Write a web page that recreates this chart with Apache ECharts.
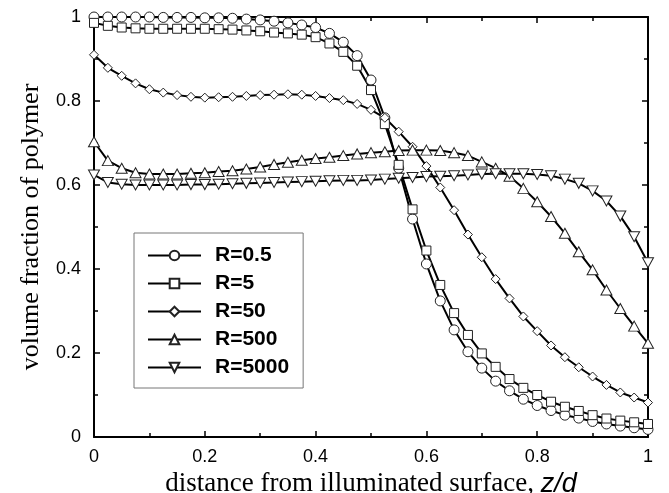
<!DOCTYPE html>
<html>
<head>
<meta charset="utf-8">
<script src="https://cdn.jsdelivr.net/npm/echarts@6/dist/echarts.min.js"></script>
<style>
html,body{margin:0;padding:0;background:#fff;}
#chart{width:669px;height:493px;}
</style>
</head>
<body>
<div id="chart"></div>
<script>
var xValues = [0,0.025,0.05,0.075,0.1,0.125,0.15,0.175,0.2,0.225,0.25,0.275,0.3,0.325,0.35,0.375,0.4,0.425,0.45,0.475,0.5,0.525,0.55,0.575,0.6,0.625,0.65,0.675,0.7,0.725,0.75,0.775,0.8,0.825,0.85,0.875,0.9,0.925,0.95,0.975,1];

var r0_5 = [1.000,1.000,1.000,1.000,1.000,0.999,0.999,0.999,0.998,0.998,0.997,0.995,0.993,0.990,0.986,0.981,0.975,0.961,0.940,0.908,0.850,0.760,0.640,0.519,0.412,0.324,0.255,0.203,0.164,0.133,0.110,0.090,0.075,0.063,0.052,0.045,0.037,0.031,0.026,0.022,0.018];
var r5 = [0.986,0.979,0.975,0.973,0.972,0.972,0.972,0.972,0.972,0.971,0.970,0.968,0.966,0.963,0.961,0.958,0.952,0.937,0.917,0.884,0.826,0.745,0.648,0.542,0.444,0.362,0.295,0.243,0.199,0.167,0.138,0.117,0.100,0.084,0.072,0.062,0.052,0.044,0.039,0.035,0.031];
var r50 = [0.910,0.879,0.860,0.842,0.828,0.820,0.814,0.810,0.808,0.809,0.810,0.812,0.814,0.815,0.816,0.815,0.812,0.807,0.802,0.793,0.779,0.760,0.727,0.691,0.645,0.594,0.540,0.482,0.428,0.376,0.330,0.287,0.252,0.218,0.190,0.166,0.144,0.124,0.106,0.094,0.082];
var r500 = [0.703,0.658,0.640,0.629,0.626,0.626,0.626,0.628,0.629,0.632,0.634,0.638,0.643,0.649,0.654,0.659,0.663,0.666,0.670,0.674,0.677,0.679,0.682,0.683,0.683,0.682,0.677,0.670,0.655,0.640,0.621,0.592,0.560,0.525,0.485,0.441,0.398,0.350,0.306,0.264,0.223];
var r5000 = [0.624,0.606,0.602,0.600,0.600,0.600,0.600,0.601,0.601,0.602,0.603,0.604,0.605,0.606,0.607,0.608,0.609,0.610,0.611,0.611,0.612,0.614,0.616,0.618,0.620,0.621,0.622,0.624,0.626,0.627,0.627,0.627,0.625,0.622,0.614,0.604,0.586,0.562,0.526,0.477,0.415];

var seriesNames = ['R=0.5','R=5','R=50','R=500','R=5000'];
var xTickLabels = ['0','0.2','0.4','0.6','0.8','1'];
var yTickLabels = ['0','0.2','0.4','0.6','0.8','1'];

function pairs(ys){ return xValues.map(function(x,i){ return [x, ys[i]]; }); }

var symbols = ['circle','rect','diamond','triangle','path://M0,0 L20,0 L10,17.3 Z'];
var symbolSizes = [10, 9, [9,9], [11,10], [11,10]];
var allData = [r0_5, r5, r50, r500, r5000];

var series = allData.map(function(d, k){
  return {
    name: seriesNames[k],
    type: 'line',
    data: pairs(d),
    symbol: symbols[k],
    symbolSize: symbolSizes[k],
    showAllSymbol: true,
    lineStyle: {color:'#000', width:2},
    itemStyle: {color:'#fff', borderColor:'#222', borderWidth:1},
    emphasis: {disabled:true},
    animation:false
  };
});

function labelFmt(list){ return function(v){ var i = Math.round(v/0.2); return list[i] !== undefined ? list[i] : ''; }; }

var axisCommon = {
  type:'value', min:0, max:1, interval:0.2,
  axisLine:{show:true, onZero:false, lineStyle:{color:'#000', width:2}},
  axisTick:{show:true, inside:true, length:6, lineStyle:{color:'#000', width:1.5}},
  minorTick:{show:true, splitNumber:2, length:4, lineStyle:{color:'#000', width:1.5}},
  splitLine:{show:false}
};

var option = {
  backgroundColor:'#fff',
  animation:false,
  grid:{left:94, right:21, top:17, bottom:56, containLabel:false, outerBoundsMode:'none'},
  xAxis:[
    Object.assign({}, axisCommon, {
      position:'bottom',
      axisLabel:{formatter:labelFmt(xTickLabels), color:'#000', fontFamily:'Liberation Sans', fontSize:18, margin:11},
      name:'distance from illuminated surface, {i|z/d}',
      nameLocation:'middle', nameGap:31,
      nameTextStyle:{color:'#000', fontFamily:'Liberation Serif', fontSize:27,
        rich:{i:{fontFamily:'Liberation Sans', fontStyle:'italic', fontSize:27, color:'#000'}}}
    }),
    Object.assign({}, axisCommon, {position:'top', axisLabel:{show:false}})
  ],
  yAxis:[
    Object.assign({}, axisCommon, {
      position:'left',
      axisLabel:{formatter:labelFmt(yTickLabels), color:'#000', fontFamily:'Liberation Sans', fontSize:18, margin:13},
      name:'volume fraction of polymer',
      nameLocation:'middle', nameGap:50,
      nameTextStyle:{color:'#000', fontFamily:'Liberation Serif', fontSize:26}
    }),
    Object.assign({}, axisCommon, {position:'right', axisLabel:{show:false}})
  ],
  legend:{
    orient:'vertical', left:134, top:233,
    data:seriesNames,
    itemWidth:53, itemHeight:12, itemGap:7,
    padding:[12,14,10,13],
    borderColor:'#777', borderWidth:1,
    backgroundColor:'#fff',
    selectedMode:false,
    textStyle:{color:'#000', fontFamily:'Liberation Sans', fontWeight:'bold', fontSize:21, lineHeight:18, padding:[0,0,0,9]}
  },
  series: series
};

var chart = echarts.init(document.getElementById('chart'), null, {renderer:'canvas'});
chart.setOption(option);
</script>
</body>
</html>
